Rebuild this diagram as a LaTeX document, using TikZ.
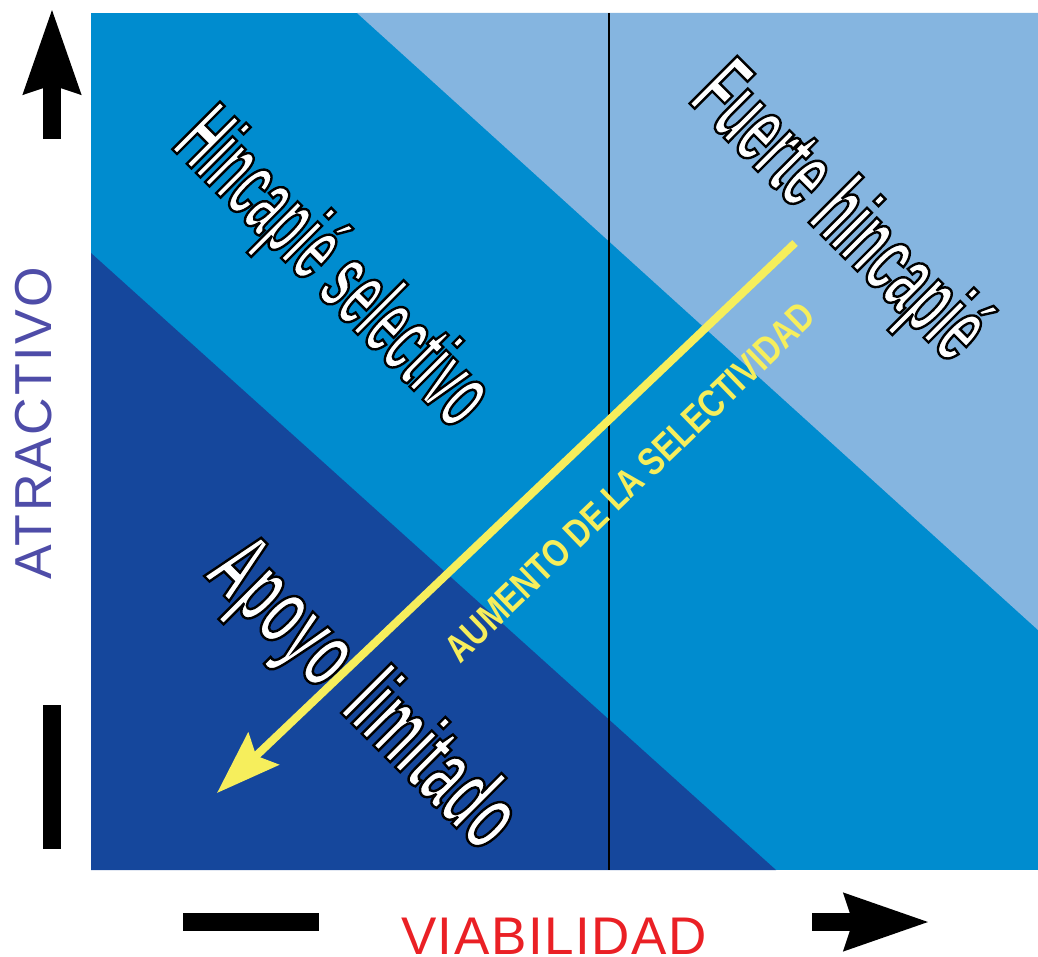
\documentclass[tikz,border=0pt]{standalone}
\usepackage{fontspec}
\setmainfont{Liberation Sans}
\newfontfamily\zonefont{Liberation Sans}
\newfontfamily\selfont{Liberation Sans}[FakeStretch=0.8]
\usetikzlibrary{arrows.meta}

% white letters with a thin black outline (fill, then stroke)
\newcommand\outlined[1]{\special{pdf:literal direct 2 Tr 0 0 0 RG 2.4 w}#1\special{pdf:literal direct 0 Tr}}

\definecolor{zoneLight}{RGB}{133,181,224}
\definecolor{zoneMid}{RGB}{0,140,207}
\definecolor{zoneDark}{RGB}{21,71,156}
\definecolor{selYellow}{RGB}{246,238,92}
\definecolor{axisBlue}{RGB}{78,76,168}
\definecolor{axisRed}{RGB}{234,32,37}

\tikzset{
	zone label/.style = {rotate = -45, anchor = base west, inner sep = 0pt, text = white,
		font = \zonefont\bfseries\fontsize{98}{100}\selectfont\addfontfeatures{FakeStretch = #1}},
	axis arrow/.style = {line width = 18pt, -{Stealth[length = 84pt, width = 54pt, inset = 7pt]}},
	axis bar/.style = {line width = 18pt},
}

\begin{document}
\begin{tikzpicture}[x = 1pt, y = -1pt]
	\useasboundingbox (0,0) rectangle (1038,957);

	% zones
	\fill[zoneMid] (91,13) rectangle (1038,870);
	\fill[zoneLight] (357,13) -- (1038,13) -- (1038,630) -- cycle;
	\fill[zoneDark] (91,253) -- (776,870) -- (91,870) -- cycle;
	\draw[line width = 1.5pt] (609,13) -- (609,870);

	% labels
	\node[zone label = 0.47] (HS) at (170,147) {\outlined{Hincapié selectivo}};
	\node[zone label = 0.515] (FH) at (687,101) {\outlined{Fuerte hincapié}};
	\node[zone label = 0.54] (AL) at (203,575) {\outlined{Apoyo\hspace{12pt} limitado}};

	\coordinate (S1) at (795,243);
	\coordinate (S2) at (217,793);
	\draw[selYellow, line width = 8pt, -{Stealth[length = 64pt, width = 44pt, inset = 10pt]}] (S1) -- (S2);
	\node[rotate = 44, text = selYellow, inner sep = 0pt, font = \selfont\bfseries\fontsize{39}{40}\selectfont]
		(AS) at (630,482) {AUMENTO DE LA SELECTIVIDAD};

	% axes
	\coordinate (Y0) at (52,139);
	\coordinate (Y1) at (52,8);
	\coordinate (M0) at (52,705);
	\coordinate (M1) at (52,849);
	\draw[axis arrow] (Y0) -- (Y1);
	\draw[axis bar] (M0) -- (M1);
	\node[rotate = 90, text = axisBlue, inner sep = 0pt,
		font = \fontsize{52}{54}\selectfont\addfontfeatures{LetterSpace = 4.5}] (AT) at (34,423) {ATRACTIVO};

	\coordinate (X0) at (812,922);
	\coordinate (X1) at (930,922);
	\coordinate (N0) at (183,922);
	\coordinate (N1) at (319,922);
	\draw[axis arrow] (X0) -- (X1);
	\draw[axis bar] (N0) -- (N1);
	\node[text = axisRed, inner sep = 0pt,
		font = \fontsize{53}{54}\selectfont\addfontfeatures{LetterSpace = 3}] (VI) at (554,936) {VIABILIDAD};
\end{tikzpicture}
\end{document}
